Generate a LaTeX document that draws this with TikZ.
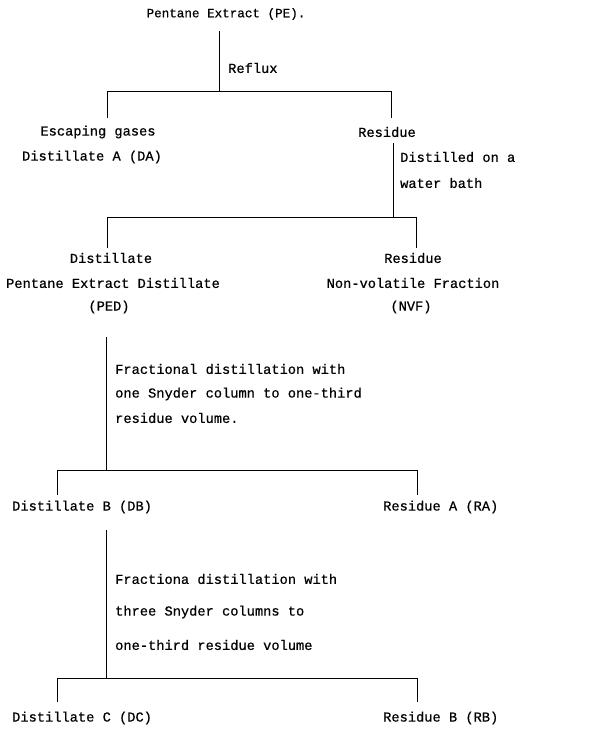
\documentclass[tikz,border=0pt]{standalone}
\usepackage{fontspec}
\setmonofont[FakeBold=0.6]{Liberation Mono}
\begin{document}
\begin{tikzpicture}[x=1pt,y=-1pt,
  lbl/.style={font=\ttfamily\fontsize{13.7}{16}\selectfont, inner sep=0pt},
  wlbl/.style={lbl, anchor=west},
  ln/.style={line width=1pt}]
\useasboundingbox (0,0) rectangle (613,732);
% texts
\node[lbl, font=\ttfamily\fontsize{12.6}{15}\selectfont] (pe) at (226,14) {Pentane Extract (PE).};
\node[wlbl] (reflux) at (228,68) {Reflux};
\node[lbl] (esc) at (98,132) {Escaping gases};
\node[lbl] (da) at (92,157) {Distillate A (DA)};
\node[lbl] (res1) at (387,132) {Residue};
\node[wlbl] (dist1) at (400,157) {Distilled on a};
\node[wlbl] (dist2) at (400,183) {water bath};
\node[lbl] (dst) at (111,258) {Distillate};
\node[lbl] (ped1) at (113,283) {Pentane Extract Distillate};
\node[lbl] (ped) at (109,307) {(PED)};
\node[lbl] (res2) at (413,258) {Residue};
\node[lbl] (nvf1) at (413,283) {Non-volatile Fraction};
\node[lbl] (nvf) at (411,307) {(NVF)};
\node[wlbl] (fa) at (115,369) {Fractional distillation with};
\node[wlbl] (fb) at (115,394) {one Snyder column to one-third};
\node[wlbl] (fc) at (115,418) {residue volume.};
\node[wlbl] (db) at (12,507) {Distillate B (DB)};
\node[wlbl] (ra) at (383,507) {Residue A (RA)};
\node[wlbl] (ga) at (115,579) {Fractiona distillation with};
\node[wlbl] (gb) at (115,612) {three Snyder columns to};
\node[wlbl] (gc) at (115,645) {one-third residue volume};
\node[wlbl] (dc) at (12,718) {Distillate C (DC)};
\node[wlbl] (rb) at (383,718) {Residue B (RB)};
% junction coordinates
\coordinate (s1t) at (219,31); \coordinate (s1b) at (219,91);
\coordinate (b1l) at (107,91); \coordinate (b1r) at (391,91);
\coordinate (d1l) at (107,118); \coordinate (d1r) at (391,118);
\coordinate (s2t) at (393,143); \coordinate (s2b) at (393,217);
\coordinate (b2l) at (107,217); \coordinate (b2r) at (416,217);
\coordinate (d2l) at (107,248); \coordinate (d2r) at (416,248);
\coordinate (s3t) at (106,337); \coordinate (s3b) at (106,470);
\coordinate (b3l) at (57,470); \coordinate (b3r) at (417,470);
\coordinate (d3l) at (57,495); \coordinate (d3r) at (417,495);
\coordinate (s4t) at (106,530); \coordinate (s4b) at (106,678);
\coordinate (b4l) at (57,678); \coordinate (b4r) at (417,678);
\coordinate (d4l) at (57,702); \coordinate (d4r) at (417,702);
% connectors
\draw[ln] (s1t) -- (s1b);
\draw[ln] (d1l) -- (b1l) -- (b1r) -- (d1r);
\draw[ln] (s2t) -- (s2b);
\draw[ln] (d2l) -- (b2l) -- (b2r) -- (d2r);
\draw[ln] (s3t) -- (s3b);
\draw[ln] (d3l) -- (b3l) -- (b3r) -- (d3r);
\draw[ln] (s4t) -- (s4b);
\draw[ln] (d4l) -- (b4l) -- (b4r) -- (d4r);
\end{tikzpicture}
\end{document}
